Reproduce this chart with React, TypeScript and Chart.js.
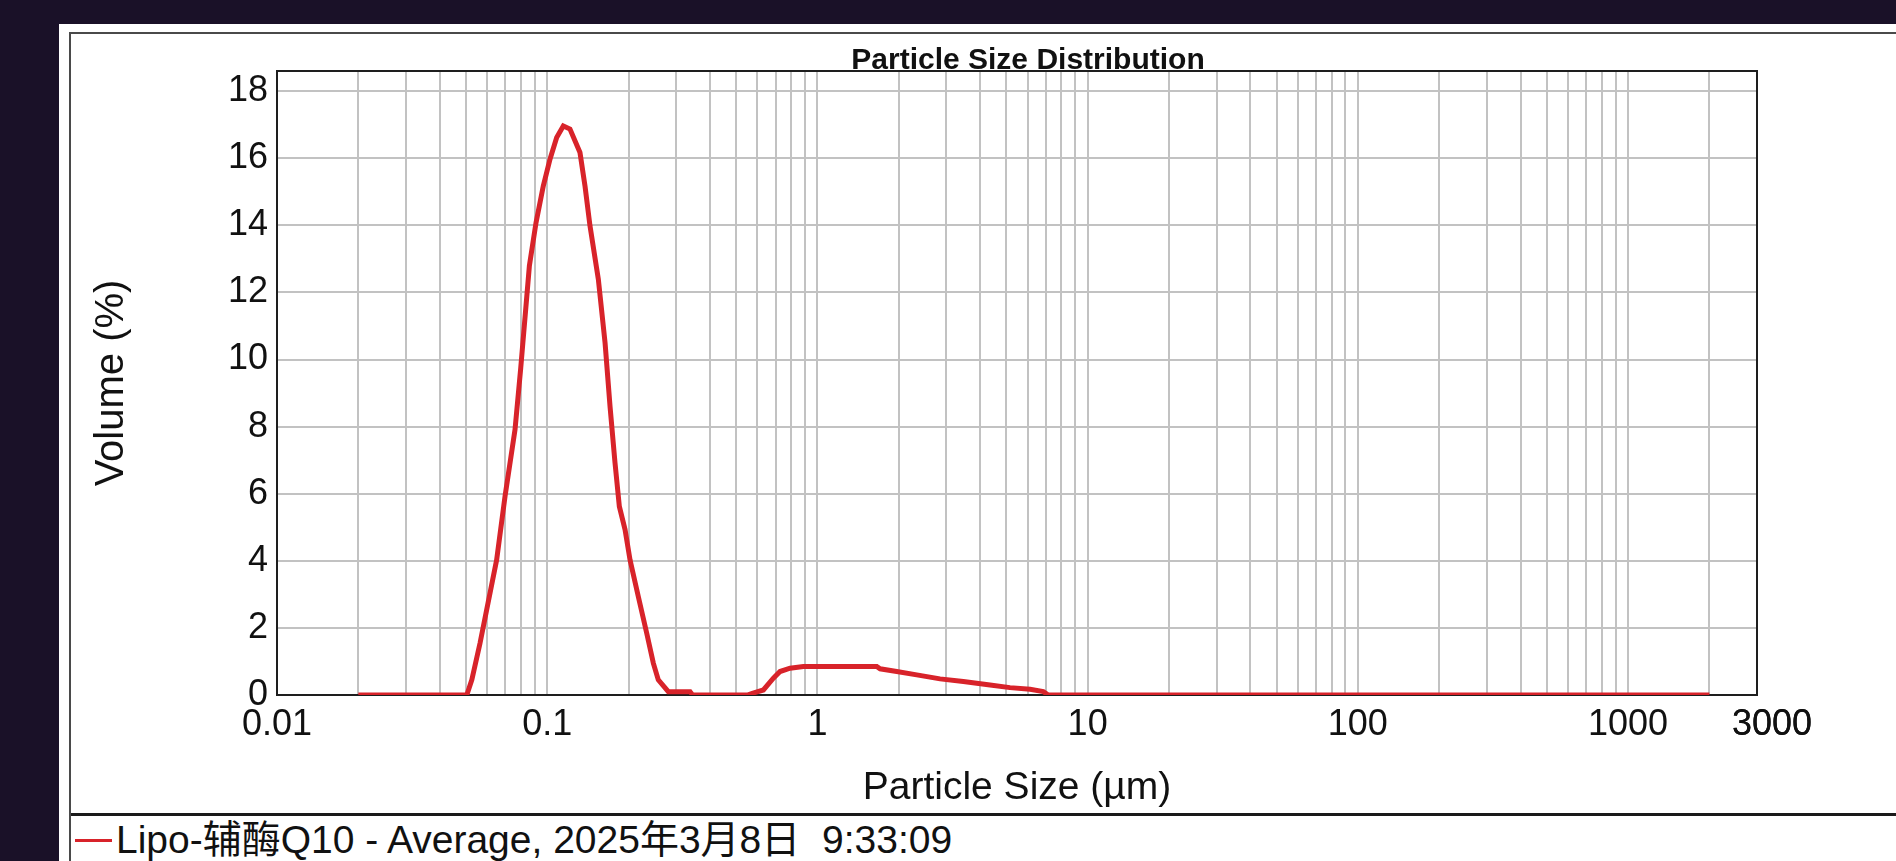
import { useEffect, useRef } from "react";
import { Chart, registerables } from "chart.js";

Chart.register(...registerables);

// ---- data ----
const SIZES_UM = [
  0.02, 0.03, 0.04, 0.0504, 0.0526, 0.0564, 0.0597, 0.065, 0.0698, 0.076, 0.0798,
  0.0859, 0.0909, 0.0967, 0.1024, 0.1084, 0.1147, 0.1214, 0.1322, 0.138, 0.144,
  0.1546, 0.1637, 0.1708, 0.1782, 0.1849, 0.1941, 0.2025, 0.2174, 0.2335,
  0.247, 0.2577, 0.2807, 0.3378, 0.345, 0.45, 0.55, 0.574, 0.631, 0.687, 0.727,
  0.792, 0.887, 1.2, 1.658, 1.705, 1.966, 2.331, 2.843, 3.467, 4.353, 5.161,
  6.121, 6.855, 7.154, 10, 100, 1000, 2000,
];
const VOLUME_PCT = [
  0, 0, 0, 0, 0.45, 1.54, 2.54, 4.03, 5.92, 7.91, 9.75,
  12.79, 14.08, 15.17, 15.97, 16.62, 16.96, 16.87, 16.17, 15.17, 13.98,
  12.39, 10.5, 8.6, 6.92, 5.62, 4.93, 4.03, 2.93, 1.84,
  0.95, 0.45, 0.1, 0.1, 0, 0, 0, 0.05, 0.15, 0.5, 0.7,
  0.8, 0.85, 0.85, 0.85, 0.78, 0.7, 0.6, 0.48, 0.4, 0.3, 0.22,
  0.17, 0.1, 0, 0, 0, 0, 0,
];

const X_TICK_VALUES = [0.01, 0.1, 1, 10, 100, 1000, 3000];
const X_TICK_LABELS = ["0.01", "0.1", "1", "10", "100", "1000", "   3000"];
const Y_TICK_VALUES = [0, 2, 4, 6, 8, 10, 12, 14, 16, 18];
const X_MIN = 0.01;
const X_MAX = 3000;
const Y_MIN = 0;
const Y_MAX = 18.6;

const CHART_TITLE = "Particle Size Distribution";
const X_TITLE = "Particle Size (µm)";
const Y_TITLE = "Volume (%)";
const SERIES_LABEL = "Lipo-辅酶Q10 - Average, 2025年3月8日  9:33:09";

// minor + major vertical grid positions (1..9 x 10^k) plus the right bound
const GRID_VALUES: number[] = (() => {
  const out: number[] = [];
  for (let k = -2; k <= 3; k++) {
    for (let d = 1; d <= 9; d++) {
      const v = parseFloat((d * Math.pow(10, k)).toPrecision(6));
      if (v >= X_MIN && v <= X_MAX) out.push(v);
    }
  }
  out.push(X_MAX);
  return out;
})();

const FONT = "'Liberation Sans', Arial, 'Noto Sans CJK SC', sans-serif";
const RED = "#d8232a";

function labelFor(v: number): string {
  for (let i = 0; i < X_TICK_VALUES.length; i++) {
    if (Math.abs(v - X_TICK_VALUES[i]) / X_TICK_VALUES[i] < 1e-6) return X_TICK_LABELS[i];
  }
  return "";
}

export default function App() {
  const ref = useRef<HTMLCanvasElement | null>(null);

  useEffect(() => {
    if (!ref.current) return;
    const framePlugin = {
      id: "frame",
      beforeDatasetsDraw(chart: any) {
        const { ctx, chartArea } = chart;
        ctx.save();
        ctx.strokeStyle = "#1e1e1e";
        ctx.lineWidth = 2;
        ctx.strokeRect(chartArea.left, chartArea.top, chartArea.right - chartArea.left, chartArea.bottom - chartArea.top);
        ctx.restore();
      },
    };
    const titlePlugin = {
      id: "topTitle",
      afterDraw(chart: any) {
        const { ctx, chartArea } = chart;
        ctx.save();
        ctx.font = `bold 30px ${FONT}`;
        ctx.fillStyle = "#111";
        ctx.textAlign = "center";
        ctx.textBaseline = "alphabetic";
        ctx.fillText(CHART_TITLE, (chartArea.left + chartArea.right) / 2 + 11, chartArea.top - 2);
        ctx.restore();
      },
    };

    const chart = new Chart(ref.current, {
      type: "line",
      data: {
        datasets: [
          {
            label: SERIES_LABEL,
            data: SIZES_UM.map((x, i) => ({ x, y: VOLUME_PCT[i] })),
            borderColor: RED,
            backgroundColor: RED,
            borderWidth: 5,
            pointRadius: 0,
            tension: 0,
            fill: false,
          },
        ],
      },
      options: {
        responsive: false,
        animation: false,
        layout: { padding: { top: 37, right: 139, left: 0, bottom: 0 } },
        plugins: {
          legend: { display: false },
          title: { display: false },
          tooltip: { enabled: false },
        },
        scales: {
          x: {
            type: "logarithmic",
            min: X_MIN,
            max: X_MAX,
            afterBuildTicks: (s: any) => {
              s.ticks = GRID_VALUES.map((v) => ({ value: v }));
            },
            afterFit: (s: any) => {
              s.height = 118;
            },
            ticks: {
              autoSkip: false,
              maxRotation: 0,
              minRotation: 0,
              padding: 8,
              color: "#111",
              font: { family: FONT, size: 36 },
              callback: (v: any) => labelFor(Number(v)),
            },
            grid: { color: "#c2c2c2", lineWidth: 2, drawTicks: false },
            border: { display: false },
            title: {
              display: true,
              text: X_TITLE,
              color: "#111",
              font: { family: FONT, size: 39 },
              padding: { top: 0, bottom: 1 },
            },
          },
          y: {
            type: "linear",
            min: Y_MIN,
            max: Y_MAX,
            afterBuildTicks: (s: any) => {
              s.ticks = Y_TICK_VALUES.map((v) => ({ value: v }));
            },
            afterFit: (s: any) => {
              s.width = 205;
            },
            ticks: {
              padding: 9,
              color: "#111",
              font: { family: FONT, size: 36 },
              callback: (v: any) => String(v),
            },
            grid: { color: "#c2c2c2", lineWidth: 2, drawTicks: false },
            border: { display: false },
            title: {
              display: true,
              text: Y_TITLE,
              color: "#111",
              font: { family: FONT, size: 40 },
              padding: { top: 16, bottom: 0 },
            },
          },
        },
      },
      plugins: [framePlugin, titlePlugin],
    } as any);
    return () => chart.destroy();
  }, []);

  return (
    <div
      style={{
        position: "absolute",
        left: 0,
        top: 0,
        width: 1896,
        height: 861,
        background: "#1a1128",
        overflow: "hidden",
      }}
    >
      <div style={{ position: "absolute", left: 59, top: 24, right: 0, bottom: 0, background: "#fff" }} />
      <div
        style={{
          position: "absolute",
          left: 69,
          top: 32,
          right: 0,
          bottom: 0,
          borderTop: "2px solid #4a4a4a",
          borderLeft: "2px solid #4a4a4a",
        }}
      />
      <canvas ref={ref} width={1824} height={779} style={{ position: "absolute", left: 72, top: 34 }} />
      <div style={{ position: "absolute", left: 71, top: 813, right: 0, height: 3, background: "#1a1a1a" }} />
      <div style={{ position: "absolute", left: 75, top: 839, width: 37, height: 3, background: RED }} />
      <div
        style={{
          position: "absolute",
          left: 116,
          top: 820,
          fontFamily: FONT,
          fontSize: 39,
          lineHeight: "39px",
          color: "#111",
          whiteSpace: "pre",
        }}
      >
        {SERIES_LABEL}
      </div>
    </div>
  );
}
